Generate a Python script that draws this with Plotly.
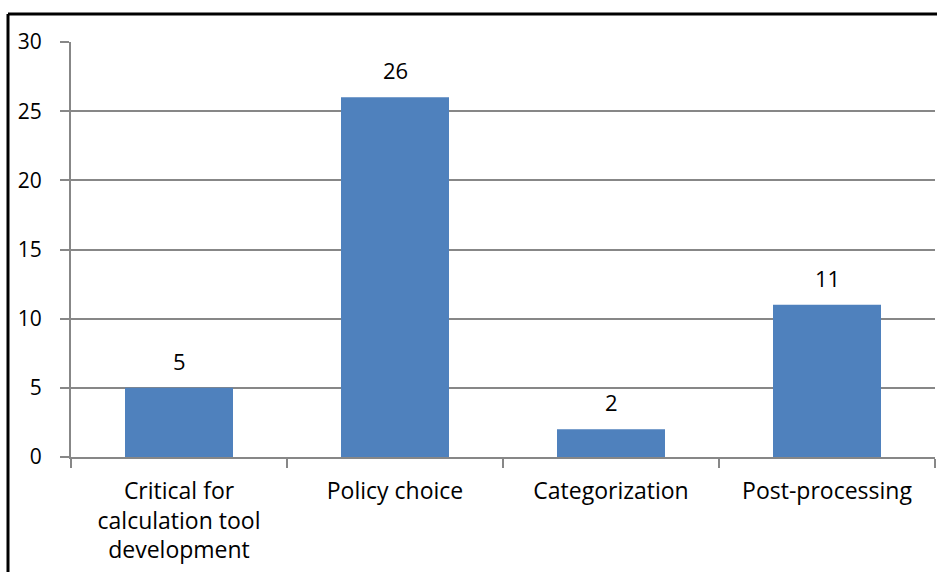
import plotly.graph_objects as go

categories = ["Critical for<br>calculation tool<br>development", "Policy choice", "Categorization", "Post-processing"]
values = [5, 26, 2, 11]
y_ticks = [0, 5, 10, 15, 20, 25, 30]

W, H = 937, 572
ml, mr, mt, mb = 71, 2, 42, 115
pw, ph = W - ml - mr, H - mt - mb

font = dict(family="Open Sans", size=21, color="#000000")
xfont = dict(family="Open Sans", size=23, color="#000000")

fig = go.Figure()
fig.add_trace(go.Bar(x=categories, y=values, marker=dict(color="#4F81BD", line=dict(width=0)), width=0.5))

for c, v in zip(categories, values):
    fig.add_annotation(x=c, y=v, text=str(v), showarrow=False, yshift=27, font=dict(family="Open Sans", size=22, color="#000000"))

# outer frame (partially outside image)
fig.add_shape(type="line", xref="paper", yref="paper",
              x0=(8 - ml) / pw, x1=1.2, y0=(H - mb - 14) / ph, y1=(H - mb - 14) / ph,
              line=dict(color="black", width=3))
fig.add_shape(type="line", xref="paper", yref="paper",
              x0=(8 - ml) / pw, x1=(8 - ml) / pw, y0=(H - mb - 14) / ph, y1=-0.5,
              line=dict(color="black", width=3))

fig.update_layout(
    width=W, height=H,
    margin=dict(l=ml, r=mr, t=mt, b=mb),
    paper_bgcolor="white", plot_bgcolor="white",
    showlegend=False, font=font, bargap=0.5,
)
fig.update_xaxes(type="category", tickson="boundaries", ticks="outside", ticklen=9, tickcolor="#878787",
                 tickwidth=2, showline=True, linecolor="#878787", linewidth=2, showgrid=False,
                 tickfont=xfont, ticklabelstandoff=12)
fig.update_yaxes(range=[0, 30], tickvals=y_ticks, ticks="outside", ticklen=9, tickcolor="#878787", tickwidth=2,
                 showline=True, linecolor="#878787", linewidth=2, showgrid=True, gridcolor="#878787",
                 gridwidth=2, zeroline=False, tickfont=font, ticklabelstandoff=14)

fig.write_html("out.html")
